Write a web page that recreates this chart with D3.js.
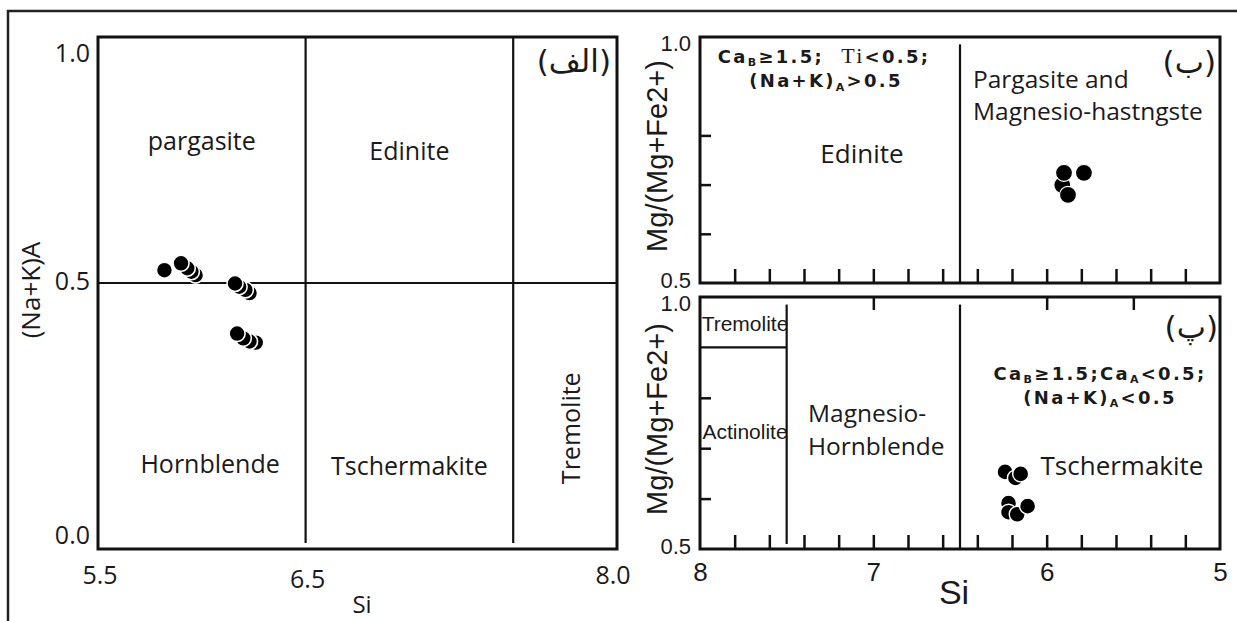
<!DOCTYPE html>
<html>
<head>
<meta charset="utf-8">
<script src="https://cdn.jsdelivr.net/npm/d3@7"></script>
<style>
  body { margin: 0; background: #fff; }
  svg { display: block; }
  .myriad { font-family: "Open Sans", sans-serif; fill: #1a1a1a; }
  .narrow { font-family: "Liberation Sans Narrow", "Liberation Sans", sans-serif; fill: #1a1a1a; }
  .formula { font-family: "DejaVu Sans", sans-serif; font-weight: bold; fill: #1a1a1a; letter-spacing: 2.3px; }
  .arabic { font-family: "DejaVu Sans", sans-serif; fill: #1a1a1a; }
</style>
</head>
<body>
<svg id="chart" width="1237" height="621"></svg>
<script>
// ---- data ----
// panel (الف): Si vs (Na+K)A
const leftXTicks = [5.5, 6.5, 8.0];
const leftYTicks = [0.0, 0.5, 1.0];
const leftSiBounds = [6.5, 7.5];
const leftNaKBound = 0.5;
const leftSi  = [5.82, 5.90, 5.93, 5.95, 5.97, 6.16, 6.18, 6.21, 6.23, 6.17, 6.20, 6.23, 6.26];
const leftNaK = [0.526, 0.540, 0.530, 0.523, 0.516, 0.499, 0.493, 0.487, 0.481, 0.405, 0.396, 0.390, 0.388];

// panel (ب): Si vs Mg/(Mg+Fe2+), (Na+K)A > 0.5
const rightXTicks = [8, 7, 6, 5];
const rightMinorTicks = [7.8, 7.6, 7.4, 7.2, 7.0, 6.8, 6.6, 6.4, 6.2, 6.0, 5.8, 5.6, 5.4, 5.2];
const rightYTicks = [0.5, 1.0];
const rightYMinor = [0.6, 0.7, 0.8];
const topSiBound = 6.5;
const topSi = [5.91, 5.90, 5.785, 5.877];
const topMg = [0.699, 0.724, 0.724, 0.679];

// panel (پ): Si vs Mg/(Mg+Fe2+), (Na+K)A < 0.5
const botSiBounds = [7.5, 6.5];
const botTremoliteMg = 0.9;
const botTopTicks = [7, 6, 5.5];
const botSi = [6.24, 6.18, 6.15, 6.22, 6.22, 6.17, 6.11];
const botMg = [0.653, 0.641, 0.649, 0.591, 0.573, 0.569, 0.585];

const svg = d3.select('#chart');

// outer frame of the figure
svg.append('rect')
  .attr('x', 8).attr('y', 11)
  .attr('width', 1240).attr('height', 620)
  .attr('fill', 'none').attr('stroke', '#222').attr('stroke-width', 2.5);

// ================= left panel =================
let xL = d3.scaleLinear().domain([5.5, 8.0]).range([98, 617]);
let yL = d3.scaleLinear().domain([0, 0.5, 1]).range([549, 283, 37]);

let gL = svg.append('g');

gL.append('rect')
  .attr('x', xL(5.5)).attr('y', yL(1))
  .attr('width', xL(8) - xL(5.5)).attr('height', yL(0) - yL(1))
  .attr('fill', 'none').attr('stroke', '#111').attr('stroke-width', 3);

gL.selectAll('.vdiv').data(leftSiBounds).enter().append('line')
  .attr('x1', d => xL(d)).attr('x2', d => xL(d))
  .attr('y1', yL(1)).attr('y2', yL(0) - 6)
  .attr('stroke', '#111').attr('stroke-width', 2.2);

gL.append('line')
  .attr('x1', xL(5.5)).attr('x2', xL(8))
  .attr('y1', yL(leftNaKBound)).attr('y2', yL(leftNaKBound))
  .attr('stroke', '#111').attr('stroke-width', 2.2);

// tick labels
gL.selectAll('.ylab').data(leftYTicks).enter().append('text')
  .attr('class', 'myriad')
  .attr('x', xL(5.5) - 8)
  .attr('y', d => yL(d) + (d === 1 ? 25 : d === 0 ? -5 : 7))
  .attr('text-anchor', 'end')
  .attr('font-size', 25)
  .text(d => d.toFixed(1));

gL.selectAll('.xlab').data(leftXTicks).enter().append('text')
  .attr('class', 'myriad')
  .attr('x', d => xL(d) + (d === 8 ? -4 : 2))
  .attr('y', d => d === 6.5 ? 588 : 584)
  .attr('text-anchor', 'middle')
  .attr('font-size', 25)
  .text(d => d.toFixed(1));

gL.append('text').attr('class', 'myriad')
  .attr('x', 362).attr('y', 613)
  .attr('text-anchor', 'middle').attr('font-size', 24)
  .text('Si');

gL.append('text').attr('class', 'myriad')
  .attr('transform', 'translate(40,290) rotate(-90)')
  .attr('text-anchor', 'middle').attr('font-size', 26)
  .text('(Na+K)A');

// field names
const leftFields = [
  {t: 'pargasite', si: 6.0, v: 0.77},
  {t: 'Edinite', si: 7.0, v: 0.75},
  {t: 'Hornblende', si: 6.04, v: 0.143},
  {t: 'Tschermakite', si: 7.0, v: 0.14}
];
gL.selectAll('.field').data(leftFields).enter().append('text')
  .attr('class', 'myriad')
  .attr('x', d => xL(d.si)).attr('y', d => yL(d.v))
  .attr('text-anchor', 'middle').attr('font-size', 25)
  .text(d => d.t);

gL.append('text').attr('class', 'myriad')
  .attr('transform', `translate(${xL(7.5) + 67},${yL(0.227)}) rotate(-90)`)
  .attr('text-anchor', 'middle').attr('font-size', 25)
  .text('Tremolite');

gL.append('text').attr('class', 'arabic')
  .attr('x', 611).attr('y', 72)
  .attr('text-anchor', 'end').attr('font-size', 31)
  .text('(الف)');

// points: the first point of a cluster sits on top
let leftPts = leftSi.map((s, i) => ({si: s, v: leftNaK[i]})).reverse();
gL.selectAll('.pt').data(leftPts).enter().append('circle')
  .attr('cx', d => xL(d.si)).attr('cy', d => yL(d.v))
  .attr('r', 8)
  .attr('fill', '#000').attr('stroke', '#fff').attr('stroke-width', 1.6);

// ================= right panels =================
let xR = d3.scaleLinear().domain([8, 5]).range([700, 1220]);
let yT = d3.scaleLinear().domain([0.5, 1.0]).range([283, 37]);
let yB = d3.scaleLinear().domain([0.5, 1.0]).range([549, 297]);

function drawPanel(yS) {
  let g = svg.append('g');
  g.append('rect')
    .attr('x', xR(8)).attr('y', yS(1))
    .attr('width', xR(5) - xR(8)).attr('height', yS(0.5) - yS(1))
    .attr('fill', 'none').attr('stroke', '#111').attr('stroke-width', 3);

  // small ticks along the bottom (pointing up)
  let bAxis = d3.axisTop(xR).tickValues(rightMinorTicks).tickSize(14).tickFormat('');
  g.append('g')
    .attr('transform', `translate(0,${yS(0.5)})`)
    .call(bAxis)
    .call(a => a.select('.domain').remove())
    .call(a => a.selectAll('line').attr('stroke', '#111').attr('stroke-width', 2.5));

  // small ticks along the left side (pointing right)
  let lAxis = d3.axisRight(yS).tickValues(rightYMinor).tickSize(11).tickFormat('');
  g.append('g')
    .attr('transform', `translate(${xR(8)},0)`)
    .call(lAxis)
    .call(a => a.select('.domain').remove())
    .call(a => a.selectAll('line').attr('stroke', '#111').attr('stroke-width', 2.5));

  g.selectAll('.ylab').data(rightYTicks).enter().append('text')
    .attr('class', 'narrow')
    .attr('x', xR(8) - 9)
    .attr('y', d => yS(d) + (d === 1 ? 14 : 5))
    .attr('text-anchor', 'end').attr('font-size', 22)
    .text(d => d.toFixed(1));

  g.append('text').attr('class', 'narrow')
    .attr('transform', `translate(667,${(yS(0.5) + yS(1)) / 2 - 4}) rotate(-90)`)
    .attr('text-anchor', 'middle').attr('font-size', 29)
    .text('Mg/(Mg+Fe2+)');
  return g;
}

// ---- top right (ب)
let gT = drawPanel(yT);
gT.append('line')
  .attr('x1', xR(topSiBound)).attr('x2', xR(topSiBound))
  .attr('y1', yT(0.985)).attr('y2', yT(0.5))
  .attr('stroke', '#111').attr('stroke-width', 2.2);

let f1 = gT.append('text').attr('class', 'formula')
  .attr('x', 824).attr('y', 63).attr('text-anchor', 'middle').attr('font-size', 18);
f1.append('tspan').text('Ca');
f1.append('tspan').attr('font-size', 11).attr('dy', 3).text('B');
f1.append('tspan').attr('dy', -3).text('≥1.5;\u00a0\u00a0');
f1.append('tspan').attr('font-family', 'Liberation Serif').attr('font-weight', 'normal').attr('font-size', 22).text('Ti');
f1.append('tspan').text('<0.5;');

let f2 = gT.append('text').attr('class', 'formula')
  .attr('x', 826).attr('y', 87).attr('text-anchor', 'middle').attr('font-size', 18);
f2.append('tspan').text('(Na+K)');
f2.append('tspan').attr('font-size', 11).attr('dy', 4).text('A');
f2.append('tspan').attr('dy', -4).text('>0.5');

gT.append('text').attr('class', 'myriad')
  .attr('x', 862).attr('y', 163).attr('text-anchor', 'middle').attr('font-size', 26)
  .text('Edinite');
gT.append('text').attr('class', 'myriad')
  .attr('x', 973).attr('y', 88).attr('font-size', 24.5)
  .text('Pargasite and');
gT.append('text').attr('class', 'myriad')
  .attr('x', 973).attr('y', 120).attr('font-size', 24.5)
  .text('Magnesio-hastngste');
gT.append('text').attr('class', 'arabic')
  .attr('x', 1216).attr('y', 73).attr('text-anchor', 'end').attr('font-size', 31)
  .text('(ب)');

gT.selectAll('.pt').data(topSi.map((s, i) => ({si: s, v: topMg[i]}))).enter().append('circle')
  .attr('cx', d => xR(d.si)).attr('cy', d => yT(d.v))
  .attr('r', 8.5)
  .attr('fill', '#000').attr('stroke', '#fff').attr('stroke-width', 1.2);

// ---- bottom right (پ)
let gB = drawPanel(yB);

let tAxis = d3.axisBottom(xR).tickValues(botTopTicks).tickSize(13).tickFormat('');
gB.append('g')
  .attr('transform', `translate(0,${yB(1)})`)
  .call(tAxis)
  .call(a => a.select('.domain').remove())
  .call(a => a.selectAll('line').attr('stroke', '#111').attr('stroke-width', 2.5));

gB.selectAll('.vdiv').data(botSiBounds).enter().append('line')
  .attr('x1', d => xR(d)).attr('x2', d => xR(d))
  .attr('y1', yB(0.985)).attr('y2', d => d === 7.5 ? yB(0.51) : yB(0.5))
  .attr('stroke', '#111').attr('stroke-width', 2.2);

gB.append('line')
  .attr('x1', xR(8)).attr('x2', xR(7.5))
  .attr('y1', yB(botTremoliteMg)).attr('y2', yB(botTremoliteMg))
  .attr('stroke', '#111').attr('stroke-width', 2.2);

gB.append('text').attr('class', 'narrow')
  .attr('x', 745).attr('y', 331).attr('text-anchor', 'middle').attr('font-size', 21)
  .text('Tremolite');
gB.append('text').attr('class', 'narrow')
  .attr('x', 745).attr('y', 439).attr('text-anchor', 'middle').attr('font-size', 21)
  .text('Actinolite');
gB.append('text').attr('class', 'myriad')
  .attr('x', 808).attr('y', 422).attr('font-size', 24.5)
  .text('Magnesio-');
gB.append('text').attr('class', 'myriad')
  .attr('x', 808).attr('y', 455).attr('font-size', 24.5)
  .text('Hornblende');
gB.append('text').attr('class', 'myriad')
  .attr('x', 1122).attr('y', 475).attr('text-anchor', 'middle').attr('font-size', 26)
  .text('Tschermakite');
gB.append('text').attr('class', 'arabic')
  .attr('x', 1218).attr('y', 338).attr('text-anchor', 'end').attr('font-size', 31)
  .text('(پ)');

let f3 = gB.append('text').attr('class', 'formula')
  .attr('x', 1100).attr('y', 380).attr('text-anchor', 'middle').attr('font-size', 18);
f3.append('tspan').text('Ca');
f3.append('tspan').attr('font-size', 11).attr('dy', 3).text('B');
f3.append('tspan').attr('dy', -3).text('≥1.5;Ca');
f3.append('tspan').attr('font-size', 11).attr('dy', 3).text('A');
f3.append('tspan').attr('dy', -3).text('<0.5;');

let f4 = gB.append('text').attr('class', 'formula')
  .attr('x', 1100).attr('y', 404).attr('text-anchor', 'middle').attr('font-size', 18);
f4.append('tspan').text('(Na+K)');
f4.append('tspan').attr('font-size', 11).attr('dy', 3).text('A');
f4.append('tspan').attr('dy', -3).text('<0.5');

gB.selectAll('.pt').data(botSi.map((s, i) => ({si: s, v: botMg[i]}))).enter().append('circle')
  .attr('cx', d => xR(d.si)).attr('cy', d => yB(d.v))
  .attr('r', 8)
  .attr('fill', '#000').attr('stroke', '#fff').attr('stroke-width', 1.4);

// x axis labels of the right side
let xAxisR = d3.axisBottom(xR).tickValues(rightXTicks).tickSize(0).tickPadding(14).tickFormat(d3.format('d'));
svg.append('g')
  .attr('transform', `translate(0,${yB(0.5)})`)
  .call(xAxisR)
  .call(a => a.select('.domain').remove())
  .call(a => a.selectAll('text')
    .attr('class', 'narrow').attr('font-size', 26).attr('fill', '#1a1a1a'));

svg.append('text').attr('class', 'narrow')
  .attr('x', 954).attr('y', 604).attr('text-anchor', 'middle').attr('font-size', 34)
  .text('Si');
</script>
</body>
</html>
